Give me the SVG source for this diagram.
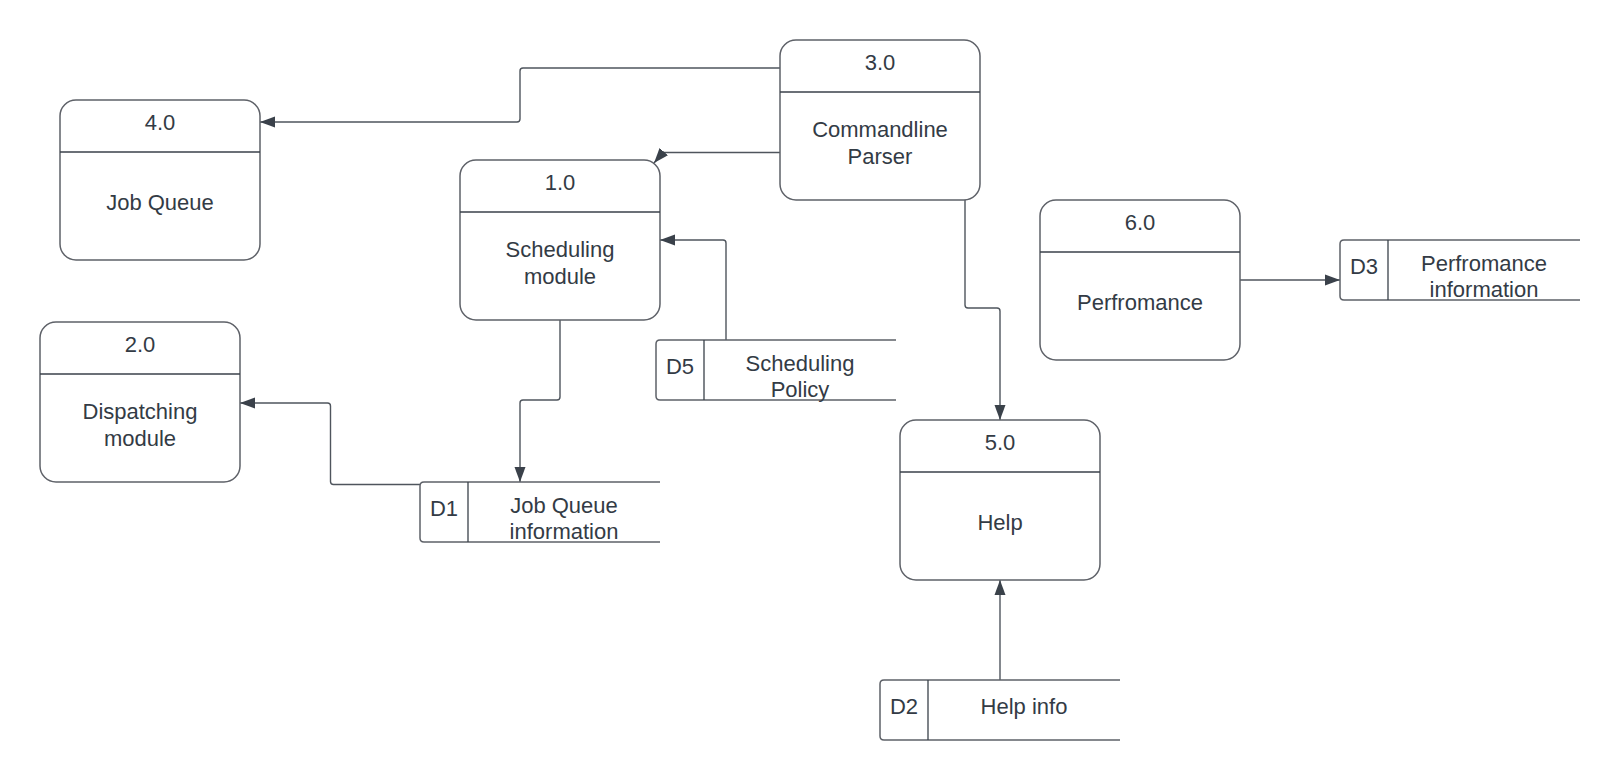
<svg xmlns="http://www.w3.org/2000/svg" width="1620" height="780" viewBox="0 0 1620 780">
<style>
  .box { fill: #ffffff; stroke: #5e6168; stroke-width: 1.5; }
  .div { stroke: #3a414a; stroke-width: 1.3; fill: none; }
  .store { fill: none; stroke: #5e6168; stroke-width: 1.5; }
  .conn { fill: none; stroke: #4f555d; stroke-width: 1.4; marker-end: url(#arrow); }
  text { font-family: "Liberation Sans", Arial, sans-serif; font-size: 22px; fill: #333b45; text-anchor: middle; }
</style>
<defs>
  <marker id="arrow" markerUnits="userSpaceOnUse" markerWidth="16" markerHeight="12" refX="15" refY="6" orient="auto">
    <path d="M0,0.5 L15,6 L0,11.5 z" fill="#3a414a"/>
  </marker>
</defs>
<rect width="1620" height="780" fill="#ffffff"/>

<g id="connectors">
  <path class="conn" d="M780,68 H523 Q520,68 520,71 V119 Q520,122 517,122 H260"/>
  <path class="conn" d="M780,152.5 H663 L654,163"/>
  <path class="conn" d="M726,340 V243 Q726,240 723,240 H660"/>
  <path class="conn" d="M560,320 V397 Q560,400 557,400 H523 Q520,400 520,403 V482"/>
  <path class="conn" d="M420,484.5 H333.5 Q330.5,484.5 330.5,481.5 V406 Q330.5,403 327.5,403 H240"/>
  <path class="conn" d="M965,200 V305 Q965,308 968,308 H997 Q1000,308 1000,311 V420"/>
  <path class="conn" d="M1240,280 H1340"/>
  <path class="conn" d="M1000,680 V580"/>
</g>

<g id="node-4">
  <rect class="box" x="60" y="100" width="200" height="160" rx="16"/>
  <line class="div" x1="60" y1="152" x2="260" y2="152"/>
  <text x="160" y="130">4.0</text>
  <text x="160" y="210">Job Queue</text>
</g>
<g id="node-3">
  <rect class="box" x="780" y="40" width="200" height="160" rx="16"/>
  <line class="div" x1="780" y1="92" x2="980" y2="92"/>
  <text x="880" y="70">3.0</text>
  <text x="880" y="136.5">Commandline</text>
  <text x="880" y="163.5">Parser</text>
</g>
<g id="node-1">
  <rect class="box" x="460" y="160" width="200" height="160" rx="16"/>
  <line class="div" x1="460" y1="212" x2="660" y2="212"/>
  <text x="560" y="190">1.0</text>
  <text x="560" y="256.5">Scheduling</text>
  <text x="560" y="283.5">module</text>
</g>
<g id="node-2">
  <rect class="box" x="40" y="322" width="200" height="160" rx="16"/>
  <line class="div" x1="40" y1="374" x2="240" y2="374"/>
  <text x="140" y="352">2.0</text>
  <text x="140" y="418.5">Dispatching</text>
  <text x="140" y="445.5">module</text>
</g>
<g id="node-6">
  <rect class="box" x="1040" y="200" width="200" height="160" rx="16"/>
  <line class="div" x1="1040" y1="252" x2="1240" y2="252"/>
  <text x="1140" y="230">6.0</text>
  <text x="1140" y="310">Perfromance</text>
</g>
<g id="node-5">
  <rect class="box" x="900" y="420" width="200" height="160" rx="16"/>
  <line class="div" x1="900" y1="472" x2="1100" y2="472"/>
  <text x="1000" y="450">5.0</text>
  <text x="1000" y="530">Help</text>
</g>

<g id="store-D1">
  <path class="store" d="M660,482 H424 Q420,482 420,486 V538 Q420,542 424,542 H660"/>
  <line class="div" x1="468" y1="482" x2="468" y2="542"/>
  <text x="444" y="516">D1</text>
  <text x="564" y="512.5">Job Queue</text>
  <text x="564" y="538.5">information</text>
</g>
<g id="store-D5">
  <path class="store" d="M896,340 H660 Q656,340 656,344 V396 Q656,400 660,400 H896"/>
  <line class="div" x1="704" y1="340" x2="704" y2="400"/>
  <text x="680" y="374">D5</text>
  <text x="800" y="370.5">Scheduling</text>
  <text x="800" y="396.5">Policy</text>
</g>
<g id="store-D3">
  <path class="store" d="M1580,240 H1344 Q1340,240 1340,244 V296 Q1340,300 1344,300 H1580"/>
  <line class="div" x1="1388" y1="240" x2="1388" y2="300"/>
  <text x="1364" y="274">D3</text>
  <text x="1484" y="270.5">Perfromance</text>
  <text x="1484" y="296.5">information</text>
</g>
<g id="store-D2">
  <path class="store" d="M1120,680 H884 Q880,680 880,684 V736 Q880,740 884,740 H1120"/>
  <line class="div" x1="928" y1="680" x2="928" y2="740"/>
  <text x="904" y="714">D2</text>
  <text x="1024" y="714">Help info</text>
</g>
</svg>
